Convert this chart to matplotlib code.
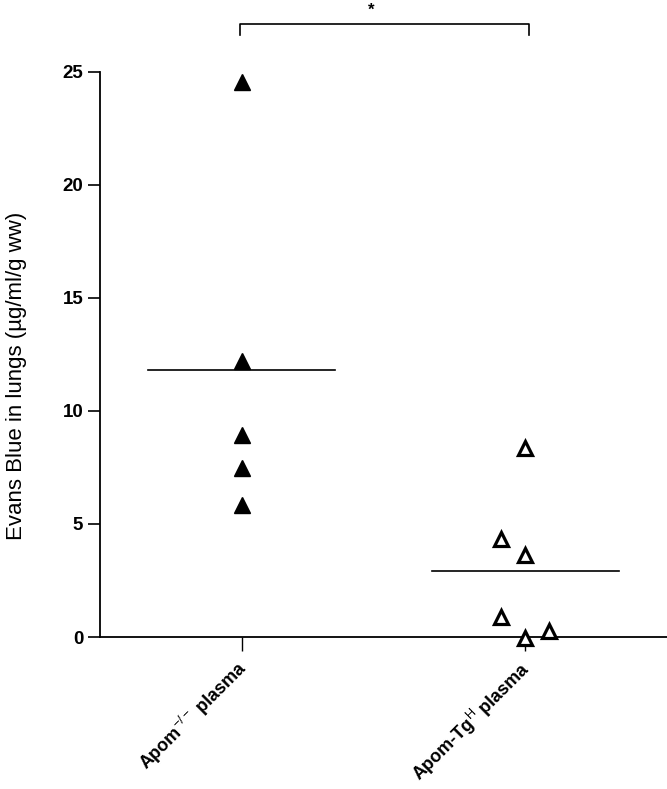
import matplotlib
matplotlib.use("Agg")
import matplotlib.pyplot as plt
import numpy as np

plt.rcParams['font.family'] = ['Liberation Sans', 'DejaVu Sans']
plt.rcParams['mathtext.fontset'] = 'custom'
plt.rcParams['mathtext.rm'] = 'Liberation Sans'
plt.rcParams['mathtext.it'] = 'Liberation Sans'
plt.rcParams['mathtext.bf'] = 'Liberation Sans:bold'

# Data
categories = [r"Apom$^{\mathrm{-/-}}$ plasma", r"Apom-Tg$^{\mathrm{H}}$ plasma"]
ko_values = [24.55, 12.2, 8.95, 7.5, 5.85]
ko_offsets = [0.0, 0.0, 0.0, 0.0, 0.0]
tg_values = [8.35, 4.35, 3.65, 0.9, -0.05, 0.28]
tg_offsets = [0.0, -0.085, 0.0, -0.085, 0.0, 0.085]
yticks = [0, 5, 10, 15, 20, 25]
sig_label = "*"

fig = plt.figure(figsize=(6.67, 7.89), dpi=100)
ax = fig.add_axes([100/667, (789-637)/789, 567/667, 565/789])

pos = [1, 2]
ax.plot(np.array(pos[0]) + np.array(ko_offsets), ko_values, linestyle='none',
        marker='^', markersize=11, color='black', clip_on=False, zorder=3)
ax.plot(np.array(pos[1]) + np.array(tg_offsets), tg_values, linestyle='none',
        marker='^', markersize=10.5, markerfacecolor='white', markeredgecolor='black',
        markeredgewidth=2.3, clip_on=False, zorder=3)

# mean lines
hw = 0.33
for p, vals in zip(pos, [ko_values, tg_values]):
    m = np.mean(vals)
    ax.plot([p - hw, p + hw], [m, m], color='black', lw=1.2, zorder=2)

ax.set_xlim(0.5, 2.5)
ax.set_ylim(0, 25)
ax.set_yticks(yticks)
ax.set_yticklabels([str(t) for t in yticks], fontsize=13.5, fontweight='bold')
ax.set_xticks(pos)
ax.set_xticklabels([])
for p, lab in zip(pos, categories):
    ax.annotate(lab, xy=(p, 0), xycoords=('data', 'axes fraction'),
                xytext=(-4.5, -14.5), textcoords='offset points',
                rotation=45, ha='right', va='top', rotation_mode='anchor',
                fontsize=13, fontweight='bold')
ax.tick_params(axis='y', length=9, width=1.2, pad=3)
ax.tick_params(axis='x', length=10, width=1.0)

for s in ['top', 'right']:
    ax.spines[s].set_visible(False)
for s in ['left', 'bottom']:
    ax.spines[s].set_linewidth(1.3)

ax.set_ylabel("Evans Blue in lungs (µg/ml/g ww)", fontsize=16)
ax.yaxis.set_label_coords(-0.128, 0.462)

# significance bracket
yb_top = 27.12
yb_leg = 26.62
ax.plot([0.993, 0.993, 2.014, 2.014], [yb_leg, yb_top, yb_top, yb_leg],
        color='black', lw=1.2, clip_on=False)
ax.text(1.458, yb_top + 0.3, sig_label, ha='center', va='bottom', fontsize=12,
        fontweight='bold')

fig.savefig("out.png", dpi=100)
